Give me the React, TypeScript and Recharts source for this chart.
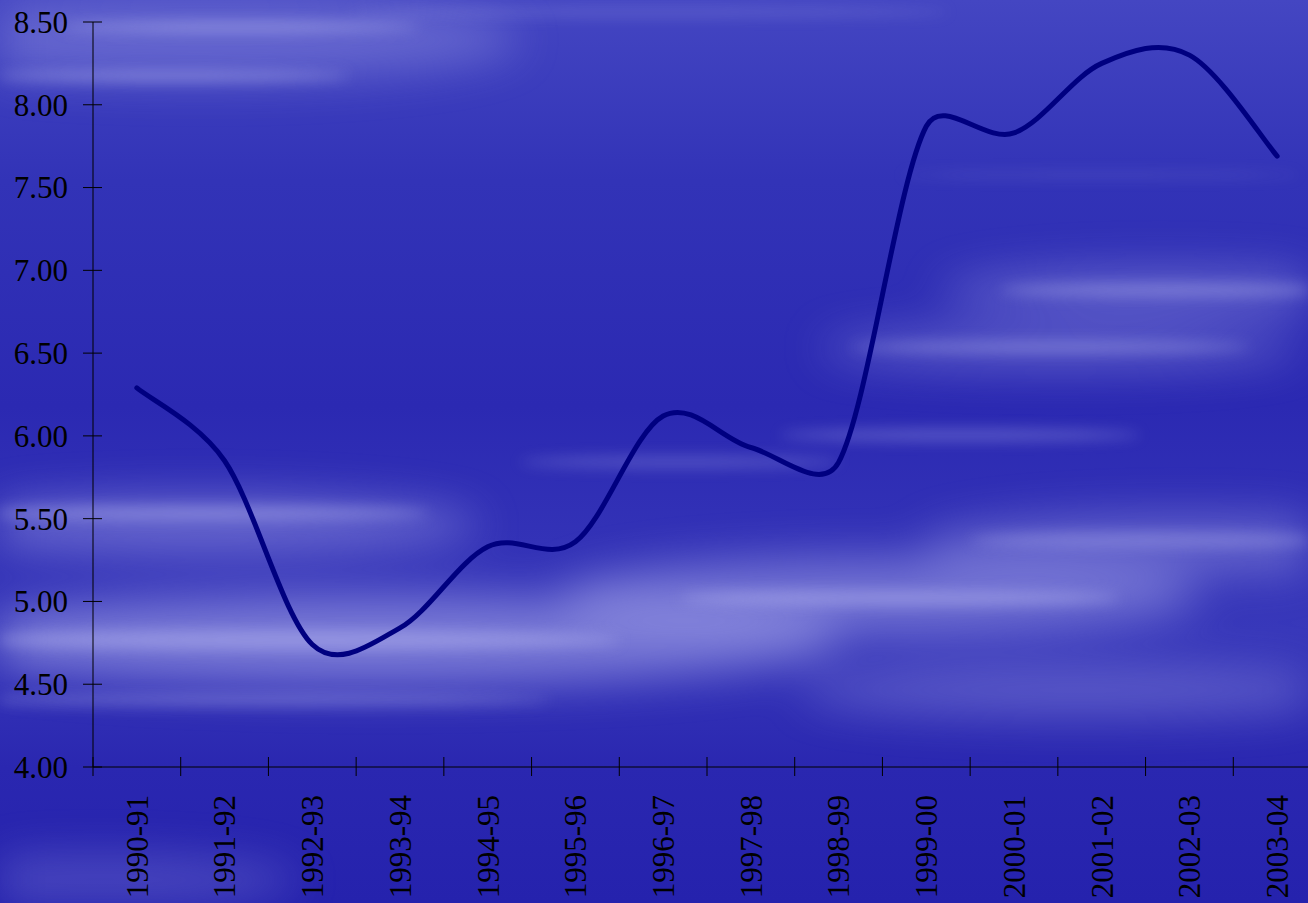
import { LineChart, Line, XAxis, YAxis } from "recharts";

const years = [
  "1990-91", "1991-92", "1992-93", "1993-94", "1994-95", "1995-96", "1996-97",
  "1997-98", "1998-99", "1999-00", "2000-01", "2001-02", "2002-03", "2003-04",
];
const values = [6.29, 5.85, 4.74, 4.84, 5.33, 5.36, 6.12, 5.93, 5.84, 7.87, 7.83, 8.25, 8.3, 7.69];
const yTicks = [4, 4.5, 5, 5.5, 6, 6.5, 7, 7.5, 8, 8.5];

const data = years.map((name, i) => ({ name, value: values[i] }));

const W = 1321;
const H = 903;
const LEFT = 93;
const STEP = (W - LEFT) / years.length;
const FONT = "'Liberation Serif', 'Times New Roman', serif";

// excel-ish smoothing: catmull-rom bezier, arms capped to a share of the segment
const smooth = (ctx: any) => {
  let pts: number[][] = [];
  const cap = (ax: number, ay: number, seg: number) => {
    const len = Math.hypot(ax, ay);
    const max = seg * 0.4;
    return len > max && len > 0 ? [(ax * max) / len, (ay * max) / len] : [ax, ay];
  };
  return {
    areaStart() {},
    areaEnd() {},
    lineStart() { pts = []; },
    point(x: number, y: number) { pts.push([+x, +y]); },
    lineEnd() {
      const n = pts.length;
      if (!n) return;
      ctx.moveTo(pts[0][0], pts[0][1]);
      for (let i = 0; i < n - 1; i++) {
        const p0 = pts[Math.max(i - 1, 0)], p1 = pts[i], p2 = pts[i + 1], p3 = pts[Math.min(i + 2, n - 1)];
        const seg = Math.hypot(p2[0] - p1[0], p2[1] - p1[1]);
        const a = cap((p2[0] - p0[0]) / 6, (p2[1] - p0[1]) / 6, seg);
        const b = cap((p3[0] - p1[0]) / 6, (p3[1] - p1[1]) / 6, seg);
        ctx.bezierCurveTo(p1[0] + a[0], p1[1] + a[1], p2[0] - b[0], p2[1] - b[1], p2[0], p2[1]);
      }
    },
  };
};

const YTick = ({ y, payload }: any) => (
  <g>
    <line x1={LEFT - 10} x2={LEFT + 9} y1={y} y2={y} stroke="#000" />
    <text x={LEFT - 25} y={y} dy="0.35em" textAnchor="end" fontSize={31} fontFamily={FONT} fill="#000">
      {Number(payload.value).toFixed(2)}
    </text>
  </g>
);

const XTick = ({ x, payload }: any) => (
  <g>
    <line x1={x - STEP / 2} x2={x - STEP / 2} y1={757} y2={776} stroke="#000" />
    <text transform={`translate(${x},795) rotate(-90)`} dy="0.35em" textAnchor="end" fontSize={31} fontFamily={FONT} fill="#000">
      {payload.value}
    </text>
  </g>
);

// broad soft glows
const glows = [
  { cx: 200, cy: 40, rx: 320, ry: 40, o: 0.3 },
  { cx: 200, cy: 525, rx: 280, ry: 28, o: 0.4 },
  { cx: 380, cy: 640, rx: 460, ry: 45, o: 0.5 },
  { cx: 880, cy: 595, rx: 320, ry: 38, o: 0.45 },
  { cx: 1180, cy: 545, rx: 260, ry: 30, o: 0.35 },
  { cx: 1160, cy: 292, rx: 220, ry: 24, o: 0.35 },
  { cx: 1060, cy: 348, rx: 240, ry: 20, o: 0.35 },
  { cx: 1080, cy: 690, rx: 280, ry: 26, o: 0.3 },
  { cx: 100, cy: 880, rx: 200, ry: 25, o: 0.25 },
];

// thinner streaks for texture
const streaks = [
  { cx: 240, cy: 27, rx: 180, ry: 4, o: 0.55 },
  { cx: 170, cy: 76, rx: 180, ry: 5, o: 0.45 },
  { cx: 650, cy: 12, rx: 300, ry: 5, o: 0.2 },
  { cx: 200, cy: 513, rx: 230, ry: 7, o: 0.4 },
  { cx: 300, cy: 640, rx: 320, ry: 10, o: 0.4 },
  { cx: 900, cy: 598, rx: 220, ry: 8, o: 0.4 },
  { cx: 250, cy: 700, rx: 300, ry: 6, o: 0.3 },
  { cx: 1170, cy: 290, rx: 170, ry: 7, o: 0.35 },
  { cx: 1050, cy: 347, rx: 200, ry: 6, o: 0.35 },
  { cx: 960, cy: 435, rx: 180, ry: 6, o: 0.3 },
  { cx: 680, cy: 462, rx: 160, ry: 6, o: 0.25 },
  { cx: 1150, cy: 540, rx: 180, ry: 8, o: 0.3 },
  { cx: 1100, cy: 175, rx: 200, ry: 2, o: 0.25 },
];

function Background() {
  return (
    <>
      <svg width={1308} height={H} style={{ position: "absolute", left: 0, top: 0 }}>
        <defs>
          <linearGradient id="bgGrad" x1="0" y1="0" x2="0" y2="1">
            <stop offset="0" stopColor="#4446c2" />
            <stop offset="0.2" stopColor="#3233b7" />
            <stop offset="0.45" stopColor="#2b29b2" />
            <stop offset="0.7" stopColor="#3838ba" />
            <stop offset="0.85" stopColor="#2a27b0" />
            <stop offset="1" stopColor="#2522ad" />
          </linearGradient>
        </defs>
        <rect width={1308} height={H} fill="url(#bgGrad)" />
      </svg>
      <svg width={1308} height={H} style={{ position: "absolute", left: 0, top: 0, filter: "blur(22px)" }}>
        {glows.map((s, i) => (
          <ellipse key={i} cx={s.cx} cy={s.cy} rx={s.rx} ry={s.ry} fill="#b8b8f2" opacity={s.o} />
        ))}
      </svg>
      <svg width={1308} height={H} style={{ position: "absolute", left: 0, top: 0, filter: "blur(7px)" }}>
        {streaks.map((s, i) => (
          <ellipse key={i} cx={s.cx} cy={s.cy} rx={s.rx} ry={s.ry} fill="#c0c0f4" opacity={s.o} />
        ))}
      </svg>
    </>
  );
}

export default function App() {
  return (
    <div style={{ position: "fixed", left: 0, top: 0, width: 1308, height: H, overflow: "hidden" }}>
      <Background />
      <div style={{ position: "absolute", left: 0, top: 0 }}>
        <LineChart width={W} height={H} data={data} margin={{ top: 22, right: 0, bottom: 0, left: 0 }}>
          <XAxis
            dataKey="name"
            scale="band"
            interval={0}
            height={136}
            axisLine={{ stroke: "#000" }}
            tickLine={false}
            tick={<XTick />}
          />
          <YAxis
            domain={[4, 8.5]}
            ticks={yTicks}
            interval={0}
            width={LEFT}
            axisLine={{ stroke: "#000" }}
            tickLine={false}
            tick={<YTick />}
          />
          <Line
            type={smooth as any}
            dataKey="value"
            stroke="#000080"
            strokeWidth={5}
            strokeLinecap="round"
            dot={false}
            isAnimationActive={false}
          />
        </LineChart>
      </div>
    </div>
  );
}
